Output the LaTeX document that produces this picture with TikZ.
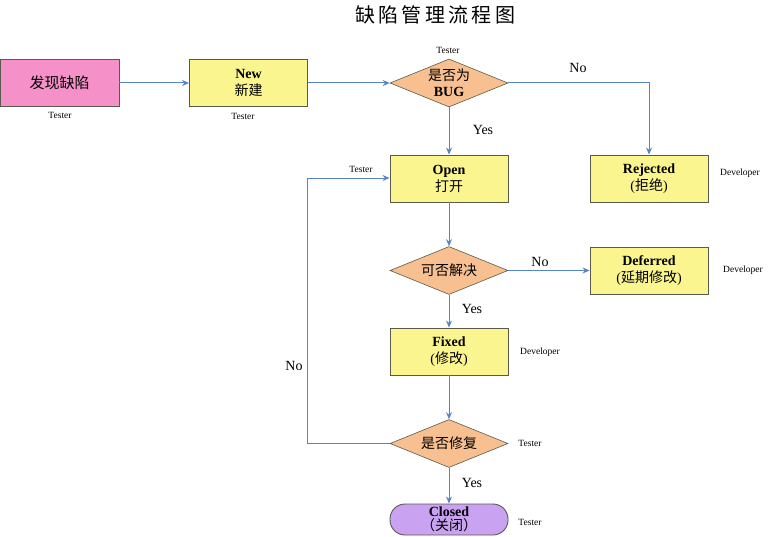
\documentclass[tikz,border=0pt]{standalone}
\usepackage{fontspec}
\setmainfont{Liberation Serif}
\newfontfamily\cjk{Noto Sans CJK SC}
\usetikzlibrary{shapes.geometric,arrows.meta}
\definecolor{pinkfill}{HTML}{F590C8}
\definecolor{yelfill}{HTML}{FAF58F}
\definecolor{orfill}{HTML}{F8C090}
\definecolor{purfill}{HTML}{C9A2F2}
\definecolor{linecol}{HTML}{5585C5}
\definecolor{bordcol}{HTML}{5A5A4A}
\begin{document}
\begin{tikzpicture}[x=1bp,y=-1bp,
  box/.style={draw=bordcol,line width=0.9pt,minimum width=118bp,minimum height=47bp,inner sep=0pt,align=center,font=\fontsize{14bp}{17bp}\selectfont},
  ybox/.style={box,fill=yelfill},
  dia/.style={diamond,draw=bordcol,line width=0.6pt,fill=orfill,aspect=2.5,minimum width=118bp,minimum height=48bp,inner sep=0pt,align=center,font=\fontsize{14bp}{16bp}\selectfont},
  role/.style={font=\fontsize{9.5bp}{10bp}\selectfont,inner sep=0pt},
  lbl/.style={font=\fontsize{14bp}{16bp}\selectfont,inner sep=0pt},
  conn/.style={draw=linecol,line width=1pt,-{Stealth[length=7bp,width=6bp]}},
  line/.style={draw=linecol,line width=1pt}]
\useasboundingbox (0,0) rectangle (772,537);
\node[font=\cjk\fontsize{20bp}{22bp}\selectfont,inner sep=0pt] (title) at (435,15) {缺\,陷\,管\,理\,流\,程\,图};
\node[box,fill=pinkfill,minimum width=119bp,font=\cjk\fontsize{15bp}{17bp}\selectfont] (found) at (59.5,83) {发现缺陷};
\node[ybox] (new) at (248.5,83) {\textbf{New}\\{\cjk 新建}};
\node[dia] (bug) at (449,83) {{\cjk 是否为}\\\textbf{BUG}};
\node[ybox] (open) at (449,178.5) {\textbf{Open}\\{\cjk 打开}};
\node[ybox] (rej) at (649,178.5) {\textbf{Rejected}\\({\cjk 拒绝})};
\node[dia,font=\cjk\fontsize{14bp}{16bp}\selectfont] (solve) at (449,270.5) {可否解决};
\node[ybox] (def) at (649,270.5) {\textbf{Deferred}\\({\cjk 延期修改})};
\node[ybox] (fix) at (449,351.5) {\textbf{Fixed}\\({\cjk 修改})};
\node[dia,font=\cjk\fontsize{14bp}{16bp}\selectfont] (fixed) at (449,443.5) {是否修复};
\node[draw=bordcol,line width=0.9pt,fill=purfill,rounded corners=15bp,minimum width=118bp,minimum height=31bp,inner sep=0pt,align=center,font=\fontsize{14bp}{14bp}\selectfont] (closed) at (449,519.5) {\textbf{Closed}\\{\cjk （关闭）}};
% roles
\node[role] (r1) at (60,115) {Tester};
\node[role] (r2) at (243,116) {Tester};
\node[role] (r3) at (448,50) {Tester};
\node[role] (r4) at (740,173) {Developer};
\node[role] (r5) at (361,169) {Tester};
\node[role] (r6) at (743,270) {Developer};
\node[role] (r7) at (540,352) {Developer};
\node[role] (r8) at (530,443) {Tester};
\node[role] (r9) at (530,522) {Tester};
% connectors
\coordinate (c1) at (649,83);
\coordinate (c2) at (307,443.5);
\coordinate (c3) at (307,178);
\draw[conn] (found) -- (new);
\draw[conn] (new) -- (bug);
\draw[conn] (bug.east) -- (c1) -- (rej.north);
\draw[conn] (bug.south) -- (open.north);
\draw[conn] (open.south) -- (solve.north);
\draw[conn] (solve.east) -- (def.west);
\draw[conn] (solve.south) -- (fix.north);
\draw[conn] (fix.south) -- (fixed.north);
\draw[conn] (fixed.south) -- (closed.north);
\draw[conn] (fixed.west) -- (c2) -- (c3) -- (open.west |- c3);
% labels
\node[lbl] (n1) at (578,68) {No};
\node[lbl] (y1) at (483,130) {Yes};
\node[lbl] (n2) at (540,262) {No};
\node[lbl] (y2) at (472,309) {Yes};
\node[lbl] (n3) at (294,366) {No};
\node[lbl] (y3) at (472,483) {Yes};
\end{tikzpicture}
\end{document}
